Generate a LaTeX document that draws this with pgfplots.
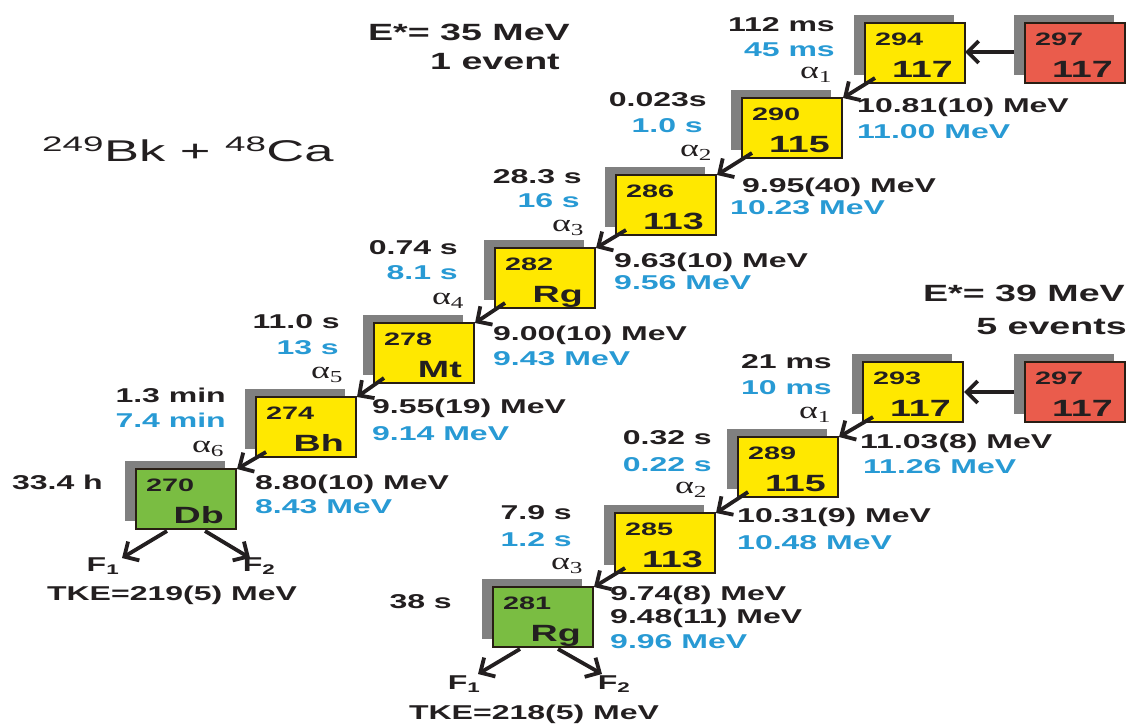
\documentclass[border=0pt]{standalone}
\usepackage{pgfplots}
\usepackage{pgfplotstable}
\pgfplotsset{compat=1.18}
\usepackage{fontspec}
\setmainfont{Liberation Sans}[FakeStretch=1.6]
\newfontfamily\reacfont{Liberation Sans}[FakeStretch=1.75]
\newfontfamily\grkfont{Liberation Serif}[FakeStretch=1.5]
\usetikzlibrary{arrows.meta}

\definecolor{txt}{RGB}{35,31,32}
\definecolor{blu}{RGB}{40,154,212}
\definecolor{nucyel}{RGB}{255,232,0}
\definecolor{nucred}{RGB}{234,92,76}
\definecolor{nucgrn}{RGB}{122,189,66}
\definecolor{shadow}{RGB}{128,128,128}
\definecolor{boxline}{RGB}{40,30,20}

% corners of one nuclide box (offsets from its top left corner)
\pgfplotstableread{
dx  dy
0   0
100 0
100 60
0   60
}\boxshape

\tikzset{
  lab/.style={font=\fontsize{20}{24}\selectfont\bfseries, text=txt, inner sep=0pt},
  blab/.style={lab, text=blu},
  mass/.style={font=\fontsize{18}{20}\selectfont\bfseries, text=txt, inner sep=0pt},
  elem/.style={font=\fontsize{23.5}{26}\selectfont\bfseries, text=txt, inner sep=0pt},
  alf/.style={font=\fontsize{24}{26}\selectfont\grkfont, text=txt, inner sep=0pt},
  head/.style={font=\fontsize{23.5}{26}\selectfont\bfseries, text=txt, inner sep=0pt},
}

% #1 x, #2 y of the top left corner, #3 fill, #4 mass number, #5 symbol
\newcommand\nuc[5]{%
  \addplot[fill=shadow, draw=none] table[x expr=\thisrow{dx}+#1-11, y expr=\thisrow{dy}+#2-8] {\boxshape} -- cycle;
  \addplot[fill=#3, draw=boxline, line width=1.8pt] table[x expr=\thisrow{dx}+#1, y expr=\thisrow{dy}+#2] {\boxshape} -- cycle;
  \node[mass, anchor=base west] at (axis cs:{#1+10},{#2+22}) {#4};
  \node[elem, anchor=base east] at (axis cs:{#1+88},{#2+54}) {#5};
}
% decay arrow
\newcommand\arr[1]{\addplot[line width=3.8pt, draw=txt, -{Straight Barb[length=11pt,width=22pt]}] coordinates {#1};}

\begin{document}
\begin{tikzpicture}
\begin{axis}[x=1pt, y=1pt, y dir=reverse,
  xmin=0, xmax=1129, ymin=0, ymax=726,
  hide axis, clip=false]
\path (axis cs:0,0) rectangle (axis cs:1129,726);

% ---- E* = 35 MeV chain
\nuc{1025}{23}{nucred}{297}{117}
\nuc{865}{23}{nucyel}{294}{117}
\nuc{742}{98}{nucyel}{290}{115}
\nuc{616}{175}{nucyel}{286}{113}
\nuc{495}{248}{nucyel}{282}{Rg}
\nuc{374}{323}{nucyel}{278}{Mt}
\nuc{256}{397}{nucyel}{274}{Bh}
\nuc{136}{469}{nucgrn}{270}{Db}

% ---- E* = 39 MeV chain
\nuc{1025}{362}{nucred}{297}{117}
\nuc{863}{362}{nucyel}{293}{117}
\nuc{738}{437}{nucyel}{289}{115}
\nuc{615}{513}{nucyel}{285}{113}
\nuc{493}{587}{nucgrn}{281}{Rg}

% arrows
\arr{(1014,52) (965,52)}
\arr{(875,78) (843,98)}
\arr{(752,153) (717,175)}
\arr{(626,230) (596,248)}
\arr{(505,303) (475,323)}
\arr{(384,378) (357,397)}
\arr{(266,452) (237,469)}
\arr{(167,531) (122,558)}
\arr{(205,531) (250,558)}

\arr{(1014,392) (964,392)}
\arr{(873,417) (839,437)}
\arr{(748,492) (716,513)}
\arr{(625,568) (594,587)}
\arr{(520,649) (478,674)}
\arr{(558,649) (602,674)}

% alpha labels
\node[alf] at (axis cs:816,75) {α\textsubscript{1}};
\node[alf] at (axis cs:696,153) {α\textsubscript{2}};
\node[alf] at (axis cs:568,228) {α\textsubscript{3}};
\node[alf] at (axis cs:448,301) {α\textsubscript{4}};
\node[alf] at (axis cs:327,375) {α\textsubscript{5}};
\node[alf] at (axis cs:208,449) {α\textsubscript{6}};
\node[alf] at (axis cs:815,415) {α\textsubscript{1}};
\node[alf] at (axis cs:691,490) {α\textsubscript{2}};
\node[alf] at (axis cs:567,566) {α\textsubscript{3}};

% headings
\node[head, anchor=east] at (axis cs:570,32) {E*= 35 MeV};
\node[head, anchor=east] at (axis cs:560,62) {1 event};
\node[head, anchor=east] at (axis cs:1125,293) {E*= 39 MeV};
\node[head, anchor=east] at (axis cs:1127,327) {5 events};
\node[anchor=base west, inner sep=0pt, text=txt, font=\fontsize{30}{32}\selectfont\reacfont]
  at (axis cs:42,161) {\textsuperscript{249}Bk + \textsuperscript{48}Ca};

% half-lives (black: experiment, blue: theory)
\node[lab, anchor=east] at (axis cs:835,25) {112 ms};
\node[blab, anchor=east] at (axis cs:835,50) {45 ms};
\node[lab, anchor=east] at (axis cs:707,100) {0.023s};
\node[blab, anchor=east] at (axis cs:703,126) {1.0 s};
\node[lab, anchor=east] at (axis cs:582,177) {28.3 s};
\node[blab, anchor=east] at (axis cs:580,201) {16 s};
\node[lab, anchor=east] at (axis cs:458,248) {0.74 s};
\node[blab, anchor=east] at (axis cs:458,273) {8.1 s};
\node[lab, anchor=east] at (axis cs:340,322) {11.0 s};
\node[blab, anchor=east] at (axis cs:339,348) {13 s};
\node[lab, anchor=east] at (axis cs:226,395) {1.3 min};
\node[blab, anchor=east] at (axis cs:226,420) {7.4 min};
\node[lab, anchor=east] at (axis cs:103,482) {33.4 h};

\node[lab, anchor=east] at (axis cs:832,362) {21 ms};
\node[blab, anchor=east] at (axis cs:832,388) {10 ms};
\node[lab, anchor=east] at (axis cs:712,438) {0.32 s};
\node[blab, anchor=east] at (axis cs:712,465) {0.22 s};
\node[lab, anchor=east] at (axis cs:572,513) {7.9 s};
\node[blab, anchor=east] at (axis cs:572,540) {1.2 s};
\node[lab, anchor=east] at (axis cs:452,602) {38 s};

% alpha energies
\node[lab, anchor=west] at (axis cs:857,107) {10.81(10) MeV};
\node[blab, anchor=west] at (axis cs:857,132) {11.00 MeV};
\node[lab, anchor=west] at (axis cs:742,187) {9.95(40) MeV};
\node[blab, anchor=west] at (axis cs:730,208) {10.23 MeV};
\node[lab, anchor=west] at (axis cs:614,262) {9.63(10) MeV};
\node[blab, anchor=west] at (axis cs:614,283) {9.56 MeV};
\node[lab, anchor=west] at (axis cs:493,335) {9.00(10) MeV};
\node[blab, anchor=west] at (axis cs:493,359) {9.43 MeV};
\node[lab, anchor=west] at (axis cs:372,408) {9.55(19) MeV};
\node[blab, anchor=west] at (axis cs:372,434) {9.14 MeV};
\node[lab, anchor=west] at (axis cs:255,484) {8.80(10) MeV};
\node[blab, anchor=west] at (axis cs:255,507) {8.43 MeV};

\node[lab, anchor=west] at (axis cs:860,443) {11.03(8) MeV};
\node[blab, anchor=west] at (axis cs:863,467) {11.26 MeV};
\node[lab, anchor=west] at (axis cs:737,517) {10.31(9) MeV};
\node[blab, anchor=west] at (axis cs:737,543) {10.48 MeV};
\node[lab, anchor=west] at (axis cs:610,595) {9.74(8) MeV};
\node[lab, anchor=west] at (axis cs:610,618) {9.48(11) MeV};
\node[blab, anchor=west] at (axis cs:610,642) {9.96 MeV};

% fission
\node[lab] at (axis cs:103,566) {F\textsubscript{1}};
\node[lab] at (axis cs:259,566) {F\textsubscript{2}};
\node[lab] at (axis cs:172,595) {TKE=219(5) MeV};
\node[lab] at (axis cs:464,684) {F\textsubscript{1}};
\node[lab] at (axis cs:614,684) {F\textsubscript{2}};
\node[lab] at (axis cs:534,714) {TKE=218(5) MeV};
\end{axis}
\end{tikzpicture}
\end{document}
